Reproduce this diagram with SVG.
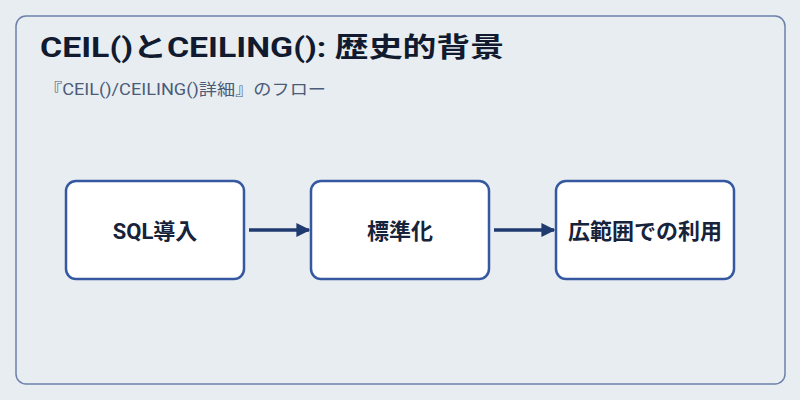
<svg xmlns="http://www.w3.org/2000/svg" width="800" height="400" viewBox="0 0 800 400">
<defs>
<style>
.frame{fill:#e8edf2;stroke:#6b80ab;stroke-width:1.5}
.node{fill:#ffffff;stroke:#3558a0;stroke-width:2.5}
.label{font-family:Roboto,"Noto Sans CJK JP",sans-serif;font-weight:bold;font-size:22px;fill:#17233a;text-anchor:middle;dominant-baseline:central}
.title{font-family:Roboto,"Noto Sans CJK JP",sans-serif;font-weight:bold;font-size:27px;fill:#111a2e}
.sub{font-family:Roboto,"Noto Sans CJK JP",sans-serif;font-size:16px;fill:#4b5b78}
.edge{stroke:#1f3a6e;stroke-width:3.5;fill:none}
</style>
<marker id="arrow" viewBox="0 0 10 10" refX="9" refY="5" markerWidth="4" markerHeight="4.6" orient="auto">
<path d="M0,0 L10,5 L0,10 z" fill="#1f3a6e"/>
</marker>
</defs>
<rect width="800" height="400" fill="#e8edf2"/>
<rect class="frame" x="16" y="16" width="769" height="368" rx="10"/>
<text class="title" x="40" y="57" textLength="464" lengthAdjust="spacingAndGlyphs">CEIL()とCEILING(): 歴史的背景</text>
<text class="sub" x="44" y="95" textLength="282" lengthAdjust="spacingAndGlyphs">『CEIL()/CEILING()詳細』のフロー</text>
<g id="edges">
<line class="edge" x1="249" y1="230" x2="309" y2="230" marker-end="url(#arrow)"/>
<line class="edge" x1="494" y1="230" x2="554" y2="230" marker-end="url(#arrow)"/>
</g>
<g id="n1">
<rect class="node" x="66" y="181" width="178" height="98" rx="10"/>
<text class="label" x="155" y="231">SQL導入</text>
</g>
<g id="n2">
<rect class="node" x="311" y="181" width="178" height="98" rx="10"/>
<text class="label" x="400" y="231">標準化</text>
</g>
<g id="n3">
<rect class="node" x="556" y="181" width="178" height="98" rx="10"/>
<text class="label" x="645" y="231">広範囲での利用</text>
</g>
</svg>
